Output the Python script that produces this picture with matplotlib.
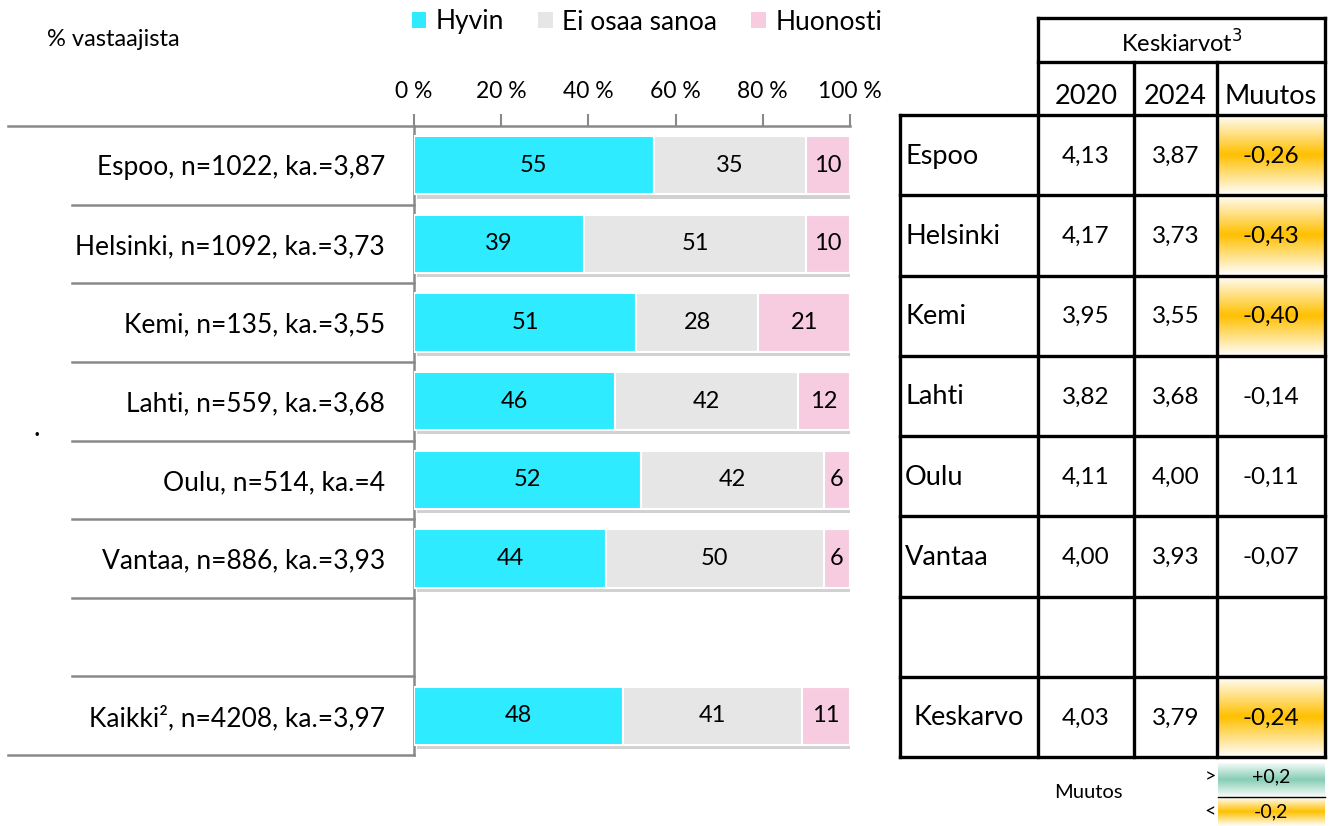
import numpy as np
import matplotlib
matplotlib.use("Agg")
import matplotlib.pyplot as plt
from matplotlib.patches import Patch, Rectangle
from matplotlib.colors import LinearSegmentedColormap
import matplotlib.patheffects as pe

plt.rcParams['font.family'] = ['Lato', 'DejaVu Sans']

# ---------------- data ----------------
categories = ["Espoo, n=1022, ka.=3,87", "Helsinki, n=1092, ka.=3,73",
              "Kemi, n=135, ka.=3,55", "Lahti, n=559, ka.=3,68",
              "Oulu, n=514, ka.=4", "Vantaa, n=886, ka.=3,93",
              "", "Kaikki², n=4208, ka.=3,97"]
hyvin = [55, 39, 51, 46, 52, 44, np.nan, 48]
ei_osaa = [35, 51, 28, 42, 42, 50, np.nan, 41]
huonosti = [10, 10, 21, 12, 6, 6, np.nan, 11]
series_names = ["Hyvin", "Ei osaa sanoa", "Huonosti"]
series_colors = ["#2EEBFF", "#E6E6E6", "#F8CCE0"]
xticks = [0, 20, 40, 60, 80, 100]
xticklabels = ["0 %", "20 %", "40 %", "60 %", "80 %", "100 %"]

table_names = ["Espoo", "Helsinki", "Kemi", "Lahti", "Oulu", "Vantaa", "", "Keskarvo"]
avg_2020 = ["4,13", "4,17", "3,95", "3,82", "4,11", "4,00", "", "4,03"]
avg_2024 = ["3,87", "3,73", "3,55", "3,68", "4,00", "3,93", "", "3,79"]
muutos = [-0.26, -0.43, -0.40, -0.14, -0.11, -0.07, np.nan, -0.24]

# ---------------- figure ----------------
W, H = 1330, 826
fig = plt.figure(figsize=(W / 100, H / 100), dpi=100)
ov = fig.add_axes([0, 0, 1, 1])
ov.set_xlim(0, W)
ov.set_ylim(H, 0)
ov.axis("off")

def fx(px):
    return px / W

def fy(py):
    return 1 - py / H

ax_l, ax_r, ax_t, ax_b = 414, 850, 126, 755
ax = fig.add_axes([fx(ax_l), fy(ax_b), fx(ax_r - ax_l), fy(ax_t) - fy(ax_b)])
ax.set_facecolor("none")

y = np.arange(len(categories))
left = np.zeros(len(categories))
gray = "#898989"
shadow = [pe.SimplePatchShadow(offset=(2, -3), shadow_rgbFace="#000000", alpha=0.18), pe.Normal()]
for vals, col in zip([hyvin, ei_osaa, huonosti], series_colors):
    vals = np.array(vals, dtype=float)
    bars = ax.barh(y, vals, left=left, height=0.74, color=col, edgecolor="white",
                   linewidth=1.5, zorder=3)
    for b in bars:
        b.set_path_effects(shadow)
    for yi, v, l in zip(y, vals, left):
        if not np.isnan(v):
            ax.text(l + v / 2, yi, f"{v:.0f}", ha="center", va="center",
                    fontsize=17, color="#000000", zorder=4)
    left = left + np.nan_to_num(vals)

ax.set_xlim(0, 100)
ax.set_ylim(len(categories) - 0.5, -0.5)
ax.xaxis.tick_top()
ax.set_xticks(xticks)
ax.set_xticklabels(xticklabels, fontsize=16.5)
ax.tick_params(axis="x", direction="out", length=9, color=gray, width=1.5, pad=8)
ax.set_yticks(y)
ax.set_yticklabels(categories, fontsize=19)
ax.tick_params(axis="y", length=0, pad=21)
for s in ["right", "bottom"]:
    ax.spines[s].set_visible(False)
for s in ["top", "left"]:
    ax.spines[s].set_color(gray)
    ax.spines[s].set_linewidth(1.8)

# separators on the category axis
xa = ax.get_yaxis_transform()
for k in range(len(categories) + 1):
    yb = k - 0.5
    if k == 0 or k == len(categories):
        x0 = (8 - ax_l) / (ax_r - ax_l)
    else:
        x0 = (72 - ax_l) / (ax_r - ax_l)
    ax.plot([x0, 0], [yb, yb], color=gray, lw=1.8, transform=xa, clip_on=False, zorder=2)

# legend
handles = [Patch(facecolor=c, edgecolor="none") for c in series_colors]
fig.legend(handles, series_names, loc="center", bbox_to_anchor=(fx(647), fy(22)),
           ncol=3, frameon=False, fontsize=19, handlelength=0.55, handleheight=0.55,
           handletextpad=0.35, columnspacing=1.3)

ov.text(47, 40, "% vastaajista", fontsize=17, ha="left", va="center")
ov.text(37, 441, ".", fontsize=20, ha="center", va="bottom")

# ---------------- table ----------------
xs = [900, 1038, 1134, 1217, 1325]
row_top = 115
row_h = 80.25
lw = 2.4

orange_cmap = LinearSegmentedColormap.from_list(
    "og", [(0, "#FFFFFF"), (0.5, "#FFC000"), (1, "#FFFFFF")])
green_cmap = LinearSegmentedColormap.from_list(
    "gr", [(0, "#F4FBF8"), (0.5, "#86CDB4"), (1, "#F4FBF8")])
grad = np.linspace(0, 1, 256).reshape(-1, 1)

for i in range(len(table_names)):
    t = row_top + i * row_h
    b = t + row_h
    c = (t + b) / 2 + 1
    if not np.isnan(muutos[i]) and muutos[i] < -0.2:
        ov.imshow(grad, cmap=orange_cmap, aspect="auto",
                  extent=[xs[3], xs[4], b, t], zorder=1, interpolation="bicubic")
    if table_names[i] == "Keskarvo":
        ov.text((xs[0] + xs[1]) / 2, c, table_names[i], fontsize=19.5, ha="center", va="center", zorder=3)
    elif table_names[i]:
        ov.text(xs[0] + 5, c, table_names[i], fontsize=19.5, ha="left", va="center", zorder=3)
    ov.text((xs[1] + xs[2]) / 2, c, avg_2020[i], fontsize=17.5, ha="center", va="center", zorder=3)
    ov.text((xs[2] + xs[3]) / 2, c, avg_2024[i], fontsize=17.5, ha="center", va="center", zorder=3)
    if not np.isnan(muutos[i]):
        ov.text((xs[3] + xs[4]) / 2, c, f"{muutos[i]:.2f}".replace(".", ","),
                fontsize=17.5, ha="center", va="center", zorder=3)

t_bottom = row_top + len(table_names) * row_h
# horizontal lines
ov.plot([xs[1], xs[4]], [18, 18], color="black", lw=lw, zorder=4, solid_capstyle="projecting")
ov.plot([xs[1], xs[4]], [62, 62], color="black", lw=lw, zorder=4)
for i in range(len(table_names) + 1):
    yy = row_top + i * row_h
    ov.plot([xs[0], xs[4]], [yy, yy], color="black", lw=lw, zorder=4, solid_capstyle="projecting")
# vertical lines
ov.plot([xs[0], xs[0]], [row_top, t_bottom], color="black", lw=lw, zorder=4, solid_capstyle="projecting")
ov.plot([xs[1], xs[1]], [18, t_bottom], color="black", lw=lw, zorder=4, solid_capstyle="projecting")
ov.plot([xs[2], xs[2]], [62, t_bottom], color="black", lw=lw, zorder=4)
ov.plot([xs[3], xs[3]], [62, t_bottom], color="black", lw=lw, zorder=4)
ov.plot([xs[4], xs[4]], [18, t_bottom], color="black", lw=lw, zorder=4, solid_capstyle="projecting")

ov.text((xs[1] + xs[4]) / 2, 43, "Keskiarvot$^{3}$", fontsize=17, ha="center", va="center")
for x0, x1, lab in [(xs[1], xs[2], "2020"), (xs[2], xs[3], "2024"), (xs[3], xs[4], "Muutos")]:
    ov.text((x0 + x1) / 2, 97, lab, fontsize=19.5, ha="center", va="center")

# colour key
ov.imshow(grad, cmap=green_cmap, aspect="auto", extent=[1218, 1325, 796, 763], zorder=1,
          interpolation="bicubic")
ov.imshow(grad, cmap=orange_cmap, aspect="auto", extent=[1218, 1325, 826, 797], zorder=1,
          interpolation="bicubic")
ov.plot([1218, 1325], [796.5, 796.5], color="black", lw=1, zorder=4)
ov.text(1271, 777, "+0,2", fontsize=14, ha="center", va="center")
ov.text(1271, 812, "-0,2", fontsize=14, ha="center", va="center")
ov.text(1210, 777, ">", fontsize=14, ha="center", va="center")
ov.text(1210, 812, "<", fontsize=14, ha="center", va="center")
ov.text(1088, 793, "Muutos", fontsize=14.5, ha="center", va="center")

ov.set_xlim(0, W)
ov.set_ylim(H, 0)

fig.savefig("out.png", dpi=100)
